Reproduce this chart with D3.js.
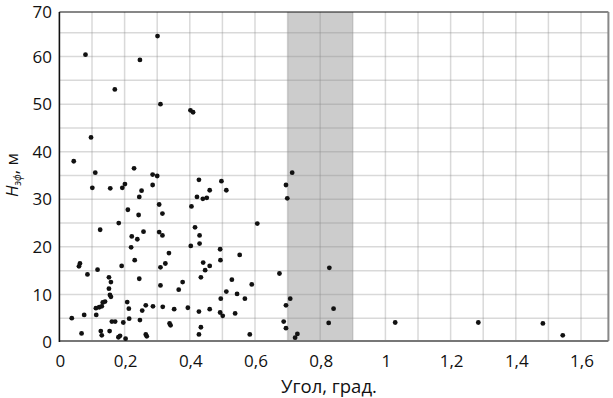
<!DOCTYPE html>
<html>
<head>
<meta charset="utf-8">
<script src="https://cdn.jsdelivr.net/npm/d3@7"></script>
<style>
  body { margin: 0; background: #fff; }
  text { font-family: "Open Sans", "Noto Sans", sans-serif; fill: #111; }
</style>
</head>
<body>
<div id="chart"></div>
<script>
// angle (deg) values
const angles = [
  0.080, 0.301, 0.247, 0.170, 0.310, 0.402, 0.410, 0.097, 0.044, 0.110,
  0.229, 0.286, 0.300, 0.428, 0.497, 0.695, 0.714, 0.286, 0.201, 0.193,
  0.101, 0.156, 0.252, 0.461, 0.512,
  0.245, 0.422, 0.440, 0.452, 0.699, 0.306, 0.405, 0.210, 0.316, 0.243,
  0.182, 0.607, 0.125, 0.258, 0.416, 0.306, 0.316, 0.430, 0.222, 0.239,
  0.430, 0.403, 0.220, 0.493, 0.336, 0.553, 0.231, 0.494, 0.441, 0.325,
  0.063, 0.060, 0.191, 0.461, 0.310, 0.828, 0.117, 0.447, 0.675, 0.086,
  0.152, 0.434, 0.245, 0.529, 0.158, 0.378, 0.590, 0.310, 0.152, 0.366,
  0.512, 0.545, 0.155, 0.158, 0.495, 0.569, 0.708,
  0.140, 0.133, 0.130, 0.122, 0.112, 0.208, 0.213, 0.265, 0.287, 0.254,
  0.317, 0.352, 0.394, 0.428, 0.461, 0.493, 0.501, 0.539, 0.695, 0.841,
  0.113, 0.076, 0.038, 0.214, 0.247, 0.161, 0.171, 0.196, 0.688, 0.826,
  1.030, 1.285, 1.483,
  0.338, 0.341, 0.434, 0.695,
  0.068, 0.127, 0.130, 0.154, 0.186, 0.181, 0.203, 0.265, 0.268, 0.428,
  0.584, 0.730, 0.723, 1.544
];
// H_eff (m) values, same order
const heights = [
  60.4, 64.3, 59.3, 53.1, 50.0, 48.7, 48.3, 43.0, 38.0, 35.6,
  36.5, 35.2, 34.9, 34.1, 33.8, 33.0, 35.6, 33.0, 33.2, 32.4,
  32.4, 32.3, 31.8, 31.9, 31.9,
  30.5, 30.5, 30.1, 30.3, 30.2, 28.9, 28.5, 27.8, 27.0, 26.7,
  25.0, 24.9, 23.6, 23.2, 24.1, 23.1, 22.4, 22.4, 22.2, 21.6,
  20.7, 20.2, 19.9, 19.5, 18.7, 18.3, 17.2, 17.2, 16.7, 16.5,
  16.5, 15.9, 16.0, 16.0, 15.7, 15.6, 15.2, 15.1, 14.4, 14.2,
  13.6, 13.6, 13.3, 13.1, 12.6, 12.6, 12.1, 11.9, 11.2, 11.0,
  10.6, 10.1, 9.9, 9.5, 9.1, 9.1, 9.1,
  8.5, 8.3, 7.5, 7.3, 7.1, 8.4, 7.0, 7.7, 7.5, 6.6,
  7.4, 6.9, 7.2, 6.4, 6.9, 6.2, 5.5, 6.0, 7.7, 7.0,
  5.7, 5.7, 5.0, 4.9, 4.6, 4.3, 4.3, 4.1, 4.3, 4.0,
  4.1, 4.1, 3.9,
  3.9, 3.5, 3.1, 2.9,
  1.8, 2.3, 1.4, 2.3, 1.3, 1.0, 0.7, 1.6, 1.2, 1.6,
  1.6, 1.7, 0.9, 1.4
];
const xTicks = [0, 0.2, 0.4, 0.6, 0.8, 1, 1.2, 1.4, 1.6];
const yTicks = [0, 10, 20, 30, 40, 50, 60, 70];
const xGrid = d3.range(1, 17).map(d => d / 10);
const yGrid = d3.range(5, 70, 5);
const band = [0.7, 0.9];

const W = 613, H = 398;
const plotL = 59.4, plotR = 608.4, plotT = 12, plotB = 341;

const svg = d3.select("#chart").append("svg")
  .attr("width", W)
  .attr("height", H);

const x = d3.scaleLinear().domain([0, 1.684]).range([plotL, plotR]);
const y = d3.scaleLinear().domain([0, 70]).range([342, 9]);

// shaded band
svg.append("rect")
  .attr("x", x(band[0]))
  .attr("y", plotT)
  .attr("width", x(band[1]) - x(band[0]))
  .attr("height", plotB - plotT)
  .attr("fill", "#cccccc");

// grid
const grid = svg.append("g")
  .attr("stroke", "#8a8a8a")
  .attr("stroke-opacity", 0.32)
  .attr("stroke-width", 1.5);

grid.selectAll("line.v")
  .data(xGrid)
  .enter().append("line")
  .attr("class", "v")
  .attr("x1", d => x(d)).attr("x2", d => x(d))
  .attr("y1", plotT).attr("y2", plotB);

grid.selectAll("line.h")
  .data(yGrid)
  .enter().append("line")
  .attr("class", "h")
  .attr("x1", plotL).attr("x2", plotR)
  .attr("y1", d => y(d)).attr("y2", d => y(d));

// frame
svg.append("line").attr("x1", plotL).attr("x2", plotR).attr("y1", plotT).attr("y2", plotT)
  .attr("stroke", "#111").attr("stroke-width", 1.2);
svg.append("line").attr("x1", plotR).attr("x2", plotR).attr("y1", plotT).attr("y2", plotB)
  .attr("stroke", "#888").attr("stroke-width", 2);
svg.append("line").attr("x1", plotL).attr("x2", plotR).attr("y1", plotB).attr("y2", plotB)
  .attr("stroke", "#777").attr("stroke-width", 2.2);
svg.append("line").attr("x1", plotL).attr("x2", plotL).attr("y1", plotT).attr("y2", plotB + 1)
  .attr("stroke", "#111").attr("stroke-width", 1.6);

// points
const pts = angles.map((a, i) => [a, heights[i]]);
svg.append("g").selectAll("circle")
  .data(pts)
  .enter().append("circle")
  .attr("cx", d => x(d[0]))
  .attr("cy", d => y(d[1]))
  .attr("r", 2.4)
  .attr("fill", "#111");

// tick labels
const fmt = d => String(d).replace(".", ",");

svg.append("g").selectAll("text")
  .data(xTicks)
  .enter().append("text")
  .attr("x", d => x(d) + 1)
  .attr("y", 366.5)
  .attr("text-anchor", "middle")
  .attr("font-size", 17)
  .text(fmt);

svg.append("g").selectAll("text")
  .data(yTicks)
  .enter().append("text")
  .attr("x", 52)
  .attr("y", d => Math.max(y(d), 12))  // keep the top label inside the page
  .attr("dy", "0.36em")
  .attr("text-anchor", "end")
  .attr("font-size", 17)
  .text(d => d);

// axis titles
svg.append("text")
  .attr("x", 329)
  .attr("y", 393)
  .attr("text-anchor", "middle")
  .attr("font-size", 18.5)
  .text("Угол, град.");

const yt = svg.append("text")
  .attr("transform", "translate(18,175) rotate(-90)")
  .attr("text-anchor", "middle")
  .attr("font-size", 17);
yt.append("tspan").attr("font-style", "italic").text("H");
yt.append("tspan").attr("font-style", "italic").attr("font-size", 10).attr("dy", 3).text("эф");
yt.append("tspan").attr("dy", -3).text(", м");
</script>
</body>
</html>
